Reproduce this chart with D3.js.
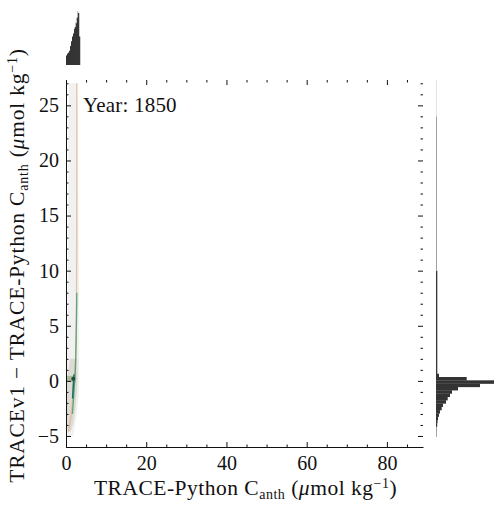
<!doctype html>
<html>
<head>
<style>
  body { margin: 0; background: #fff; }
  #chart text { font-family: "Liberation Serif", serif; fill: #111; }
</style>
</head>
<body>
<svg id="chart"></svg>
<script src="https://cdnjs.cloudflare.com/ajax/libs/d3/7.8.5/d3.min.js"></script>
<script>
// axis ticks
var xTicks = [0, 20, 40, 60, 80];
var yTicks = [-5, 0, 5, 10, 15, 20, 25];
var xDomain = [0, 89];
var yDomain = [-6, 27.3];

// top marginal histogram (x values)
var topBinStart = 0, topBinWidth = 0.25;
var topCountsLight = [10, 12, 13, 15, 20, 25, 30, 34, 40, 45, 50, 57, 55, 30];
var topCountsDark  = [10, 12, 13, 15, 20, 25, 30, 33, 38, 40, 44, 50, 55, 30];

// right marginal histogram (y values), variable width bins
var rightEdges  = [-5.05, -4.75, -4.45, -4.15, -3.85, -3.55, -3.25, -2.95, -2.65, -2.35, -2.05, -1.75, -1.45, -1.15, -0.85, -0.55, -0.25, 0.05, 0.35, 0.65, 10, 24, 27.3];
var rightCounts = [1, 1, 1, 1.2, 1.5, 2, 3, 4, 5.7, 7, 10, 11.7, 14, 16, 22, 44, 58, 30.7, 3, 1.3, 1, 0.6];

// main panel: spread of points (grey cloud) and the fitted lines
var cloudY     = [-5, -4, -3, -2, -1, 0, 2, 5, 10, 15, 20, 25, 27];
var cloudLeft  = [0.4, 0.1, 0, 0, 0, 0, 0.2, 0.4, 0.5, 0.6, 0.6, 0.7, 0.8];
var cloudRight = [1.8, 2.3, 2.7, 3.0, 3.2, 3.3, 3.3, 3.3, 3.2, 3.1, 3.0, 2.9, 2.8];
var coreY      = [-4.6, -4, -3, -2, -1, 0, 1, 2];
var coreLeft   = [0.5, 0.3, 0.2, 0.1, 0.1, 0.2, 0.6, 1.0];
var coreRight  = [1.2, 1.8, 2.2, 2.5, 2.7, 2.9, 2.9, 2.8];
var tanX = [0.6, 0.9, 1.2, 1.6, 2.0, 2.3, 2.5, 2.6, 2.7, 2.7, 2.7];
var tanY = [-4.6, -4, -3.4, -2, -0.5, 1, 3, 6, 12, 20, 27];
var greenX = [1.6, 1.8, 2.0, 2.2, 2.45, 2.6, 2.7];
var greenY = [-3, -2, -1, 0, 2, 5, 8];
var tealX = [1.65, 1.8, 2.0];
var tealY = [-1.6, -0.5, 0.6];
var bandX = [0, 2.4];
var bandY = [-0.1, 0.45];
var dot = [1.8, 0.2];
var yearLabel = "Year: 1850";

var W = 500, H = 509;
var svg = d3.select("#chart").attr("width", W).attr("height", H);

var main = {left: 66, right: 423, top: 80, bottom: 447};
var x = d3.scaleLinear().domain(xDomain).range([main.left, main.right]);
var y = d3.scaleLinear().domain(yDomain).range([main.bottom, main.top]);

// --- main panel contents
var area = d3.area().curve(d3.curveBasis)
  .y(function(d) { return y(d.y); })
  .x0(function(d) { return x(d.l); })
  .x1(function(d) { return x(d.r); });
svg.append("path")
  .datum(cloudY.map(function(v, i) { return {y: v, l: cloudLeft[i], r: cloudRight[i]}; }))
  .attr("d", area)
  .attr("fill", "#f1f1f1");
svg.append("path")
  .datum(coreY.map(function(v, i) { return {y: v, l: coreLeft[i], r: coreRight[i]}; }))
  .attr("d", area)
  .attr("fill", "#dedad4");

svg.append("rect")
  .attr("x", x(bandX[0])).attr("width", x(bandX[1]) - x(bandX[0]))
  .attr("y", y(bandY[1])).attr("height", y(bandY[0]) - y(bandY[1]))
  .attr("fill", "#9fb58f").attr("opacity", 0.8);

var line = d3.line().curve(d3.curveBasis)
  .x(function(d) { return x(d[0]); }).y(function(d) { return y(d[1]); });
svg.append("path").datum(d3.zip(tanX, tanY)).attr("d", line)
  .attr("fill", "none").attr("stroke", "#dcb38a").attr("stroke-opacity", 0.75).attr("stroke-width", 1.3);
svg.append("path").datum(d3.zip(greenX, greenY)).attr("d", line)
  .attr("fill", "none").attr("stroke", "#3e9a64").attr("stroke-opacity", 0.8).attr("stroke-width", 1.3);
svg.append("path").datum(d3.zip(tealX, tealY)).attr("d", line)
  .attr("fill", "none").attr("stroke", "#1c6b6a").attr("stroke-width", 1.5);
svg.append("circle").attr("cx", x(dot[0])).attr("cy", y(dot[1])).attr("r", 2)
  .attr("fill", "#1f4a3e");

// --- axes (ticks inward on all four sides, spines only left and bottom)
var xMinor = d3.range(xDomain[0], xDomain[1], 5).filter(function(v) { return v % 20 !== 0; });
var yMinor = d3.range(-6, 28, 1).filter(function(v) { return v % 5 !== 0 && v >= yDomain[0] && v <= yDomain[1]; });

svg.append("g").attr("transform", "translate(0," + main.bottom + ")")
  .call(d3.axisBottom(x).tickValues(xTicks).tickSize(-5).tickPadding(9).tickSizeOuter(0));
svg.append("g").attr("transform", "translate(0," + main.bottom + ")")
  .call(d3.axisBottom(x).tickValues(xMinor).tickSize(-2.5).tickFormat("").tickSizeOuter(0))
  .select(".domain").remove();
svg.append("g").attr("transform", "translate(" + main.left + ",0)")
  .call(d3.axisLeft(y).tickValues(yTicks).tickSize(-5).tickPadding(7).tickSizeOuter(0)
    .tickFormat(function(d) { return d < 0 ? "\u2212" + Math.abs(d) : d; }));
svg.append("g").attr("transform", "translate(" + main.left + ",0)")
  .call(d3.axisLeft(y).tickValues(yMinor).tickSize(-2.5).tickFormat("").tickSizeOuter(0))
  .select(".domain").remove();
// top and right ticks
svg.append("g").attr("transform", "translate(0," + main.top + ")")
  .call(d3.axisTop(x).tickValues(xTicks).tickSize(-5).tickFormat(""))
  .select(".domain").remove();
svg.append("g").attr("transform", "translate(0," + main.top + ")")
  .call(d3.axisTop(x).tickValues(xMinor).tickSize(-2.5).tickFormat(""))
  .select(".domain").remove();
svg.append("g").attr("transform", "translate(" + main.right + ",0)")
  .call(d3.axisRight(y).tickValues(yTicks).tickSize(-5).tickFormat(""))
  .select(".domain").remove();
svg.append("g").attr("transform", "translate(" + main.right + ",0)")
  .call(d3.axisRight(y).tickValues(yMinor).tickSize(-2.5).tickFormat(""))
  .select(".domain").remove();

svg.selectAll(".tick text").style("font-size", "20px").attr("fill", "#111");
svg.selectAll(".domain, .tick line").attr("stroke", "#111").attr("stroke-width", 1);

// labels
svg.append("text").attr("x", 83).attr("y", 112).style("font-size", "21px")
  .style("letter-spacing", "0.2px").text(yearLabel);

function unitLabel(t, head, spacing) {
  t.style("font-size", "21.5px").style("letter-spacing", spacing + "px");
  t.append("tspan").text(head);
  t.append("tspan").attr("dy", 3.5).style("font-size", "14px").text("anth");
  t.append("tspan").attr("dy", -3.5).text(" (");
  t.append("tspan").style("font-style", "italic").text("\u03bc");
  t.append("tspan").text("mol kg");
  t.append("tspan").attr("dy", -7).style("font-size", "14px").text("\u22121");
  t.append("tspan").attr("dy", 7).text(")");
}
unitLabel(svg.append("text").attr("x", (main.left + main.right) / 2 + 1).attr("y", 495)
  .attr("text-anchor", "middle"), "TRACE-Python C", 0.5);
unitLabel(svg.append("text")
  .attr("transform", "translate(24," + ((main.top + main.bottom) / 2 + 2) + ") rotate(-90)")
  .attr("text-anchor", "middle"), "TRACEv1 \u2212 TRACE-Python C", 0.8);

// --- top marginal histogram
var topBase = 65, topTop = 10;
var hTop = d3.scaleLinear().domain([0, d3.max(topCountsLight)]).range([topBase, topTop + 1]);
function topBins(counts) {
  return counts.map(function(c, i) { return {x0: topBinStart + i * topBinWidth, x1: topBinStart + (i + 1) * topBinWidth, c: c}; });
}
svg.append("g").selectAll("rect").data(topBins(topCountsLight)).enter().append("rect")
  .attr("x", function(d) { return x(d.x0); }).attr("width", function(d) { return x(d.x1) - x(d.x0); })
  .attr("y", function(d) { return hTop(d.c); }).attr("height", function(d) { return topBase - hTop(d.c); })
  .attr("fill", "#bdbdbd");
svg.append("g").selectAll("rect").data(topBins(topCountsDark)).enter().append("rect")
  .attr("x", function(d) { return x(d.x0); }).attr("width", function(d) { return x(d.x1) - x(d.x0) + 0.2; })
  .attr("y", function(d) { return hTop(d.c); }).attr("height", function(d) { return topBase - hTop(d.c); })
  .attr("fill", "#333");

// --- right marginal histogram
var rightBase = 436;
var hRight = d3.scaleLinear().domain([0, 58]).range([rightBase, 494]);
var rBins = rightCounts.map(function(c, i) { return {y0: rightEdges[i], y1: rightEdges[i + 1], c: c}; });
svg.append("g").selectAll("rect").data(rBins).enter().append("rect")
  .attr("x", rightBase)
  .attr("y", function(d) { return y(d.y1); })
  .attr("height", function(d) { return y(d.y0) - y(d.y1) + 0.2; })
  .attr("width", function(d) { return hRight(d.c) - rightBase; })
  .attr("fill", function(d) { return d.c < 0.8 ? "#d0d0d0" : d.c < 1.2 ? "#a0a0a0" : "#333"; });
</script>
</body>
</html>
